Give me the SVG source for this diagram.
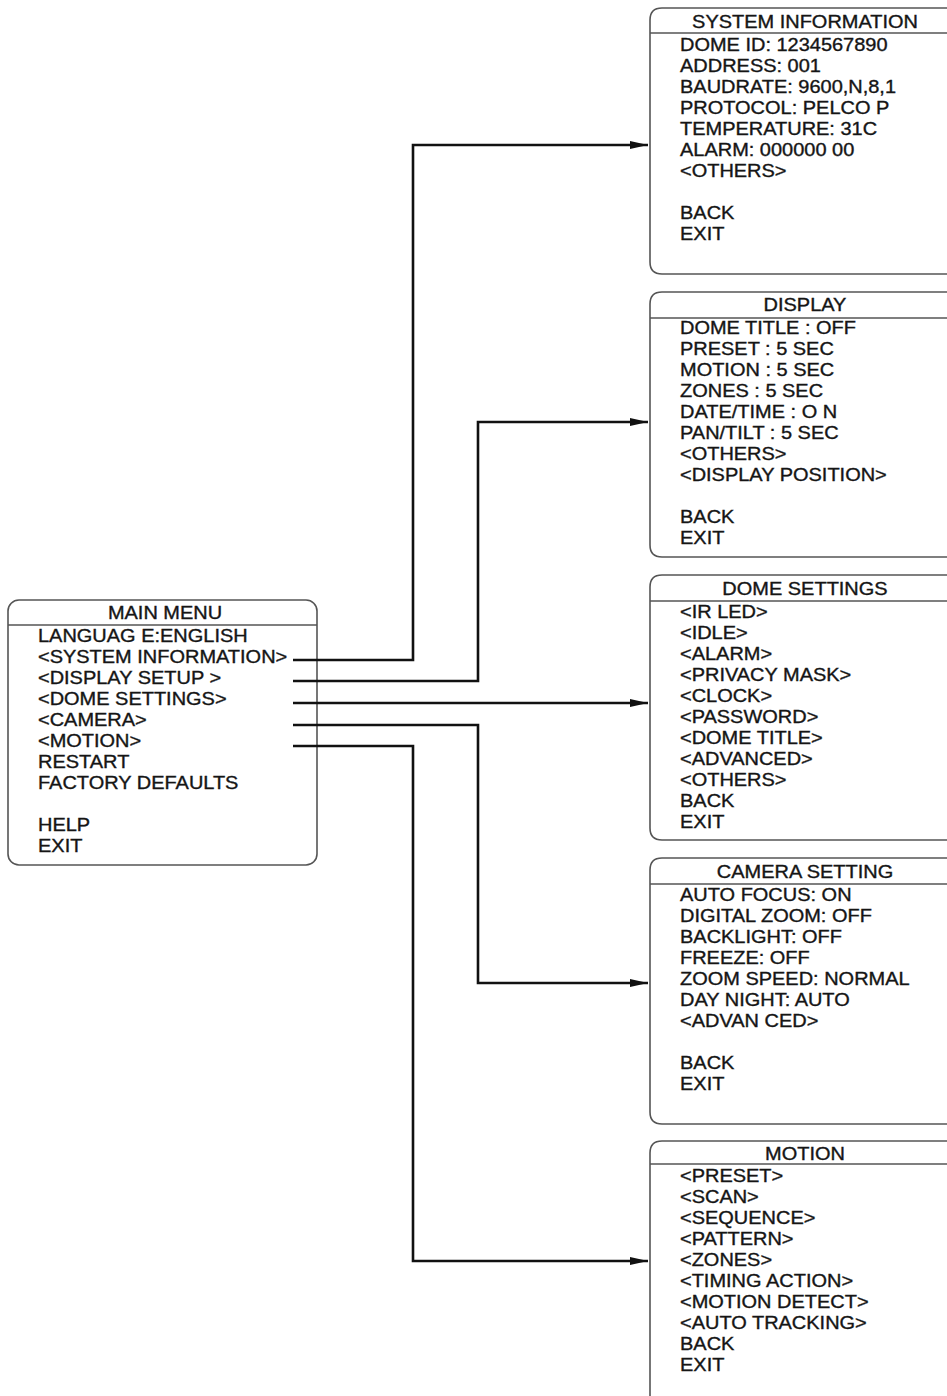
<svg xmlns="http://www.w3.org/2000/svg" width="947" height="1396" viewBox="0 0 947 1396">
<defs>
<style>
.t{font-family:"Liberation Sans",Arial,sans-serif;font-size:18px;fill:#151515;stroke:#151515;stroke-width:0.35}
.h{text-anchor:middle}
.box{fill:none;stroke:#555;stroke-width:1.6}
.sep{stroke:#555;stroke-width:1.6}
.con{fill:none;stroke:#111;stroke-width:2.6;marker-end:url(#arr)}
</style>
<marker id="arr" viewBox="0 0 18 8" refX="18" refY="4" markerWidth="18" markerHeight="8" markerUnits="userSpaceOnUse" orient="auto">
<path d="M0,0 L18,4 L0,8 Z" fill="#111"/>
</marker>
</defs>
<rect width="947" height="1396" fill="#fff"/>

<g id="main-menu">
<rect class="box" x="8" y="600" width="309" height="265" rx="11"/>
<line class="sep" x1="8" y1="625" x2="317" y2="625"/>
<g transform="translate(165 0) scale(1.11 1)"><text class="t h" x="0" y="619">MAIN MENU</text></g>
<g transform="translate(38 0) scale(1.11 1)">
<text class="t" x="0" y="642">LANGUAG E:ENGLISH</text>
<text class="t" x="0" y="663">&lt;SYSTEM INFORMATION&gt;</text>
<text class="t" x="0" y="684">&lt;DISPLAY SETUP &gt;</text>
<text class="t" x="0" y="705">&lt;DOME SETTINGS&gt;</text>
<text class="t" x="0" y="726">&lt;CAMERA&gt;</text>
<text class="t" x="0" y="747">&lt;MOTION&gt;</text>
<text class="t" x="0" y="768">RESTART</text>
<text class="t" x="0" y="789">FACTORY DEFAULTS</text>
<text class="t" x="0" y="831">HELP</text>
<text class="t" x="0" y="852">EXIT</text>
</g>
</g>

<g id="system-information">
<path class="box" d="M947,8 H662 Q650,8 650,20 V262 Q650,274 662,274 H947"/>
<line class="sep" x1="650" y1="33" x2="947" y2="33"/>
<g transform="translate(805 0) scale(1.11 1)"><text class="t h" x="0" y="28">SYSTEM INFORMATION</text></g>
<g transform="translate(680 0) scale(1.11 1)">
<text class="t" x="0" y="51">DOME ID: 1234567890</text>
<text class="t" x="0" y="72">ADDRESS: 001</text>
<text class="t" x="0" y="93">BAUDRATE: 9600,N,8,1</text>
<text class="t" x="0" y="114">PROTOCOL: PELCO P</text>
<text class="t" x="0" y="135">TEMPERATURE: 31C</text>
<text class="t" x="0" y="156">ALARM: 000000 00</text>
<text class="t" x="0" y="177">&lt;OTHERS&gt;</text>
<text class="t" x="0" y="219">BACK</text>
<text class="t" x="0" y="240">EXIT</text>
</g>
</g>

<g id="display">
<path class="box" d="M947,292 H662 Q650,292 650,304 V545 Q650,557 662,557 H947"/>
<line class="sep" x1="650" y1="318" x2="947" y2="318"/>
<g transform="translate(805 0) scale(1.11 1)"><text class="t h" x="0" y="311">DISPLAY</text></g>
<g transform="translate(680 0) scale(1.11 1)">
<text class="t" x="0" y="334">DOME TITLE : OFF</text>
<text class="t" x="0" y="355">PRESET : 5 SEC</text>
<text class="t" x="0" y="376">MOTION : 5 SEC</text>
<text class="t" x="0" y="397">ZONES : 5 SEC</text>
<text class="t" x="0" y="418">DATE/TIME : O N</text>
<text class="t" x="0" y="439">PAN/TILT : 5 SEC</text>
<text class="t" x="0" y="460">&lt;OTHERS&gt;</text>
<text class="t" x="0" y="481">&lt;DISPLAY POSITION&gt;</text>
<text class="t" x="0" y="523">BACK</text>
<text class="t" x="0" y="544">EXIT</text>
</g>
</g>

<g id="dome-settings">
<path class="box" d="M947,575 H662 Q650,575 650,587 V828 Q650,840 662,840 H947"/>
<line class="sep" x1="650" y1="601" x2="947" y2="601"/>
<g transform="translate(805 0) scale(1.11 1)"><text class="t h" x="0" y="595">DOME SETTINGS</text></g>
<g transform="translate(680 0) scale(1.11 1)">
<text class="t" x="0" y="618">&lt;IR LED&gt;</text>
<text class="t" x="0" y="639">&lt;IDLE&gt;</text>
<text class="t" x="0" y="660">&lt;ALARM&gt;</text>
<text class="t" x="0" y="681">&lt;PRIVACY MASK&gt;</text>
<text class="t" x="0" y="702">&lt;CLOCK&gt;</text>
<text class="t" x="0" y="723">&lt;PASSWORD&gt;</text>
<text class="t" x="0" y="744">&lt;DOME TITLE&gt;</text>
<text class="t" x="0" y="765">&lt;ADVANCED&gt;</text>
<text class="t" x="0" y="786">&lt;OTHERS&gt;</text>
<text class="t" x="0" y="807">BACK</text>
<text class="t" x="0" y="828">EXIT</text>
</g>
</g>

<g id="camera-setting">
<path class="box" d="M947,858 H662 Q650,858 650,870 V1112 Q650,1124 662,1124 H947"/>
<line class="sep" x1="650" y1="884" x2="947" y2="884"/>
<g transform="translate(805 0) scale(1.11 1)"><text class="t h" x="0" y="878">CAMERA SETTING</text></g>
<g transform="translate(680 0) scale(1.11 1)">
<text class="t" x="0" y="901">AUTO FOCUS: ON</text>
<text class="t" x="0" y="922">DIGITAL ZOOM: OFF</text>
<text class="t" x="0" y="943">BACKLIGHT: OFF</text>
<text class="t" x="0" y="964">FREEZE: OFF</text>
<text class="t" x="0" y="985">ZOOM SPEED: NORMAL</text>
<text class="t" x="0" y="1006">DAY NIGHT: AUTO</text>
<text class="t" x="0" y="1027">&lt;ADVAN CED&gt;</text>
<text class="t" x="0" y="1069">BACK</text>
<text class="t" x="0" y="1090">EXIT</text>
</g>
</g>

<g id="motion">
<path class="box" d="M947,1141 H662 Q650,1141 650,1153 V1396"/>
<line class="sep" x1="650" y1="1164" x2="947" y2="1164"/>
<g transform="translate(805 0) scale(1.11 1)"><text class="t h" x="0" y="1160">MOTION</text></g>
<g transform="translate(680 0) scale(1.11 1)">
<text class="t" x="0" y="1182">&lt;PRESET&gt;</text>
<text class="t" x="0" y="1203">&lt;SCAN&gt;</text>
<text class="t" x="0" y="1224">&lt;SEQUENCE&gt;</text>
<text class="t" x="0" y="1245">&lt;PATTERN&gt;</text>
<text class="t" x="0" y="1266">&lt;ZONES&gt;</text>
<text class="t" x="0" y="1287">&lt;TIMING ACTION&gt;</text>
<text class="t" x="0" y="1308">&lt;MOTION DETECT&gt;</text>
<text class="t" x="0" y="1329">&lt;AUTO TRACKING&gt;</text>
<text class="t" x="0" y="1350">BACK</text>
<text class="t" x="0" y="1371">EXIT</text>
</g>
</g>

<g id="connectors">
<path class="con" d="M293,660 H413 V145 H648"/>
<path class="con" d="M293,681 H478 V422 H648"/>
<path class="con" d="M293,703 H648"/>
<path class="con" d="M293,725 H478 V983 H648"/>
<path class="con" d="M293,746 H413 V1261 H648"/>
</g>
</svg>
